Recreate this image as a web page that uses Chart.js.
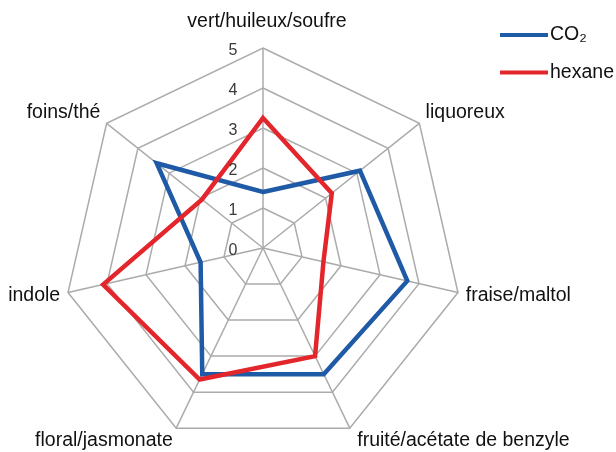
<!DOCTYPE html>
<html>
<head>
<meta charset="utf-8">
<script src="https://cdn.jsdelivr.net/npm/chart.js@4/dist/chart.umd.min.js"></script>
<style>
  html, body { margin: 0; padding: 0; background: #fff; }
  canvas { display: block; }
</style>
</head>
<body>
<canvas id="radar" width="616" height="452"></canvas>
<script>
const categories = ["vert/huileux/soufre", "liquoreux", "fraise/maltol", "fruité/acétate de benzyle", "floral/jasmonate", "indole", "foins/thé"];
const co2Values = [1.4, 3.1, 3.7, 3.5, 3.5, 1.6, 3.4];
const hexaneValues = [3.25, 2.2, 1.55, 3.0, 3.65, 4.1, 1.95];
const tickValues = [0, 1, 2, 3, 4, 5];

const LABEL_FONT = '19.5px "Liberation Sans", Arial, sans-serif';
const TICK_FONT = '16px "Liberation Sans", Arial, sans-serif';

// axis names round the web, values up the top spoke, legend in the corner
const decorations = {
  id: "decorations",
  afterDraw(chart) {
    const ctx = chart.ctx;
    const scale = chart.scales.r;
    ctx.save();
    ctx.textBaseline = "middle";

    ctx.font = LABEL_FONT;
    ctx.fillStyle = "#111";
    chart.data.labels.forEach((label, i) => {
      const p = scale.getPointPosition(i, scale.drawingArea + 8);
      const a = p.angle + Math.PI / 2;
      const s = Math.sin(a), c = Math.cos(a);
      let dx = 0, dy;
      if (Math.abs(s) < 0.1) {
        ctx.textAlign = "center";
        dx = 4;
        dy = -18;
      } else {
        ctx.textAlign = s > 0 ? "left" : "right";
        dy = c > 0.5 ? -6 : c < -0.5 ? 5 : 1;
        if (s > 0 && c < -0.5) dx = 4;
      }
      ctx.fillText(label, p.x + dx, p.y + dy);
    });

    ctx.font = TICK_FONT;
    ctx.fillStyle = "#3a3a3a";
    ctx.textAlign = "center";
    tickValues.forEach(v => {
      const y = scale.yCenter - scale.getDistanceFromCenterForValue(v);
      ctx.fillText(String(v), scale.xCenter - 30, y + 3);
    });

    ctx.font = LABEL_FONT;
    ctx.textAlign = "left";
    chart.data.datasets.forEach((ds, i) => {
      const y = 35 + i * 37.5;
      ctx.strokeStyle = ds.borderColor;
      ctx.lineWidth = 4;
      ctx.beginPath();
      ctx.moveTo(500, y);
      ctx.lineTo(548, y);
      ctx.stroke();
      ctx.fillStyle = "#111";
      ctx.fillText(ds.label, 550, y);
    });
    ctx.restore();
  }
};

new Chart(document.getElementById("radar"), {
  type: "radar",
  data: {
    labels: categories,
    datasets: [
      { label: "CO₂", data: co2Values, borderColor: "#1f5aa6", order: 2 },
      { label: "hexane", data: hexaneValues, borderColor: "#e3262c", order: 1 },
    ],
  },
  options: {
    responsive: false,
    animation: false,
    layout: { padding: { left: 63, right: 153, top: 48, bottom: 4 } },
    elements: {
      line: { borderWidth: 4.5, fill: false, tension: 0, borderJoinStyle: "miter" },
      point: { radius: 0, hoverRadius: 0 },
    },
    plugins: {
      legend: { display: false },
      tooltip: { enabled: false },
    },
    scales: {
      r: {
        min: 0,
        max: 5,
        ticks: { stepSize: 1, display: false },
        pointLabels: { display: false },
        grid: { color: "#ababab", lineWidth: 1.5 },
        angleLines: { color: "#ababab", lineWidth: 1.5 },
      },
    },
  },
  plugins: [decorations],
});
</script>
</body>
</html>
